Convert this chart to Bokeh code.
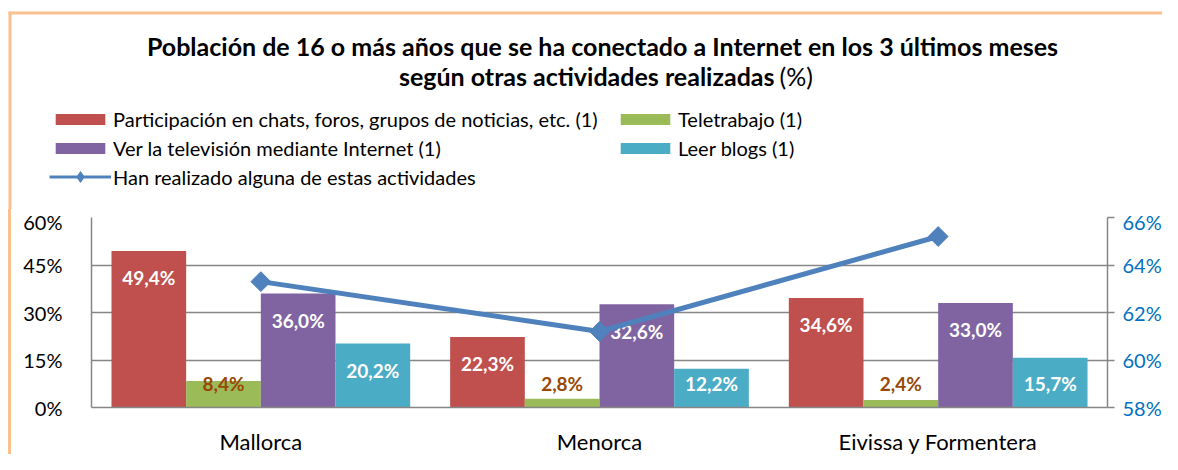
import math
from bokeh.plotting import figure
from bokeh.layouts import column, row
from bokeh.models import (FactorRange, Range1d, LinearAxis, FixedTicker, Legend,
                          LegendItem, Label, BoxAnnotation, ColumnDataSource, Div)
from bokeh.transform import dodge
from bokeh.core.properties import value
from bokeh.embed import file_html
from bokeh.resources import INLINE

# ---------------- data ----------------
categories = ["Mallorca", "Menorca", "Eivissa y Formentera"]
series_names = ["Participación en chats, foros, grupos de noticias, etc. (1)",
                "Teletrabajo (1)",
                "Ver la televisión mediante Internet (1)",
                "Leer blogs (1)"]
chats = [49.4, 22.3, 34.6]
teletrabajo = [8.4, 2.8, 2.4]
television = [36.0, 32.6, 33.0]
blogs = [20.2, 12.2, 15.7]
line_name = "Han realizado alguna de estas actividades"
alguna = [63.3, 61.2, 65.2]
left_ticks = [0, 15, 30, 45, 60]
right_ticks = [58, 60, 62, 64, 66]
title_line1 = "Población de 16 o más años que se ha conectado a Internet en los 3 últimos meses"
title_line2_bold = "según otras actividades realizadas"
title_line2_plain = "(%)"

# ---------------- styles ----------------
FONT = "Lato"
colors = ["#C0504D", "#9BBB59", "#8064A2", "#4BACC6"]
label_colors = ["white", "#984807", "white", "white"]
line_color = "#4F81BD"
grid_color = "#868686"
border_color = "#FAC090"

W = 1162
HEAD_H = 209
STRIP_W = 8
STRIP_LINE = 3
STRIP = STRIP_W + STRIP_LINE
BORDER_TOP = 11

all_series = [chats, teletrabajo, television, blogs]

# ================= header figure (title + legend) =================
head = figure(width=W, height=HEAD_H, output_backend="svg", toolbar_location=None,
              x_range=Range1d(0, W), y_range=Range1d(HEAD_H, 0),
              x_axis_location=None, y_axis_location=None,
              min_border=0, min_border_left=0, min_border_right=0,
              min_border_top=0, min_border_bottom=0)
head.outline_line_color = None
head.xgrid.grid_line_color = None
head.ygrid.grid_line_color = None
head.background_fill_color = "white"
head.border_fill_color = "white"

# hidden copies of the series, used only as legend keys
leg_bars = []
for vals, col in zip(all_series, colors):
    leg_bars.append(head.vbar(x=list(range(len(vals))), top=vals, width=0.2,
                              fill_color=col, line_color=None, visible=False))
leg_line = head.line(x=list(range(len(alguna))), y=alguna, line_color=line_color,
                     line_width=3, visible=False)
leg_mark = head.scatter(x=list(range(len(alguna))), y=alguna, marker="diamond",
                        size=12, fill_color=line_color,
                        line_color=line_color, visible=False)


def make_legend(fig, items, loc, gh, standoff):
    lg = Legend(items=items, location=loc, orientation="vertical",
                glyph_width=62, glyph_height=gh, label_height=29, spacing=0,
                label_standoff=standoff, padding=0, margin=0,
                label_text_font=FONT, label_text_font_size="20px",
                label_text_color="black", border_line_color=None,
                background_fill_alpha=0, inactive_fill_alpha=0)
    fig.add_layout(lg)
    return lg


make_legend(head, [LegendItem(label=series_names[0], renderers=[leg_bars[0]]),
                   LegendItem(label=series_names[2], renderers=[leg_bars[2]])],
            (49, 47), 14, 2)
make_legend(head, [LegendItem(label=series_names[1], renderers=[leg_bars[1]]),
                   LegendItem(label=series_names[3], renderers=[leg_bars[3]])],
            (614, 47), 14, 2)
make_legend(head, [LegendItem(label=line_name, renderers=[leg_line, leg_mark])],
            (49, 18), 27, 2)

head.add_layout(Label(x=602, y=45, text=title_line1, text_align="center",
                      text_baseline="middle", text_font=FONT, text_font_style="bold",
                      text_font_size="25px", text_color="black"))
head.add_layout(Label(x=774, y=75, text=title_line2_bold, text_align="right",
                      text_baseline="middle", text_font=FONT, text_font_style="bold",
                      text_font_size="25px", text_color="black"))
head.add_layout(Label(x=779, y=75, text=title_line2_plain, text_align="left",
                      text_baseline="middle", text_font=FONT,
                      text_font_size="25px", text_color="black"))

# peach chart border (top and left edges), as thin filled boxes
head.add_layout(BoxAnnotation(left=STRIP_W, right=W, top=BORDER_TOP,
                              bottom=BORDER_TOP + STRIP_LINE,
                              fill_color=border_color, fill_alpha=1,
                              line_color=None, level="overlay"))
head.add_layout(BoxAnnotation(left=STRIP_W, right=STRIP, top=BORDER_TOP,
                              bottom=HEAD_H,
                              fill_color=border_color, fill_alpha=1,
                              line_color=None, level="overlay"))

# ================= main chart =================
p = figure(x_range=FactorRange(*categories), y_range=Range1d(0, 60),
           frame_width=1016, frame_height=190,
           output_backend="svg", toolbar_location=None,
           min_border_left=91 - STRIP, min_border_right=55, min_border_top=8,
           min_border_bottom=47)
p.outline_line_color = None
p.background_fill_color = "white"
p.border_fill_color = "white"

p.yaxis.ticker = FixedTicker(ticks=left_ticks)
p.yaxis.major_label_overrides = {t: f"{t}%" for t in left_ticks}
p.yaxis.axis_line_color = grid_color
p.yaxis.axis_line_width = 1.5
p.yaxis.major_tick_line_color = None
p.yaxis.minor_tick_line_color = None
p.yaxis.major_label_text_font = FONT
p.yaxis.major_label_text_font_size = "20px"
p.yaxis.major_label_text_color = "black"
p.yaxis.major_label_standoff = 23

p.ygrid.ticker = FixedTicker(ticks=left_ticks)
p.ygrid.grid_line_color = grid_color
p.ygrid.grid_line_width = 1.5
p.xgrid.grid_line_color = None

p.xaxis.axis_line_color = grid_color
p.xaxis.axis_line_width = 1.5
p.xaxis.major_tick_line_color = None
p.xaxis.minor_tick_line_color = None
p.xaxis.major_label_text_font = FONT
p.xaxis.major_label_text_font_size = "22px"
p.xaxis.major_label_text_color = "black"
p.xaxis.major_label_standoff = 14

p.extra_y_ranges = {"right": Range1d(58, 66)}
rax = LinearAxis(y_range_name="right", ticker=FixedTicker(ticks=right_ticks))
rax.major_label_overrides = {t: f"{t}%" for t in right_ticks}
rax.axis_line_color = grid_color
rax.axis_line_width = 1.5
rax.major_tick_line_color = grid_color
rax.major_tick_line_width = 1.5
rax.major_tick_out = 7
rax.major_tick_in = 0
rax.minor_tick_line_color = None
rax.major_label_text_font = FONT
rax.major_label_text_font_size = "20px"
rax.major_label_text_color = "#0070C0"
rax.major_label_standoff = 8
p.add_layout(rax, "right")

bw = 0.2205
offsets = [-1.5 * bw, -0.5 * bw, 0.5 * bw, 1.5 * bw]
for vals, col, lc, off in zip(all_series, colors, label_colors, offsets):
    ly = [max(v - 8.5, 7.6) for v in vals]
    txt = [f"{v:.1f}".replace(".", ",") + "%" for v in vals]
    src = ColumnDataSource(dict(x=categories, top=vals, ly=ly, txt=txt))
    p.vbar(x=dodge("x", off, range=p.x_range), top="top", width=bw,
           source=src, fill_color=col, line_color=None)
    p.text(x=dodge("x", off, range=p.x_range), y="ly", text="txt", source=src,
           text_align="center", text_baseline="middle",
           text_font=value(FONT), text_font_style="bold",
           text_font_size="19px", text_color=lc)

lsrc = ColumnDataSource(dict(x=categories, y=alguna))
p.line(x="x", y="y", source=lsrc, y_range_name="right",
       line_color=line_color, line_width=5)
p.scatter(x="x", y="y", source=lsrc, y_range_name="right", marker="square",
          angle=math.pi / 4, size=14, fill_color=line_color, line_color=line_color)

strip_white = Div(text="", width=STRIP_W, height=245, margin=0)
strip_peach = Div(text="", width=STRIP_LINE, height=245, margin=0,
                  styles={"background-color": border_color})
layout = column(head, row(strip_white, strip_peach, p, spacing=0), spacing=0)

open("out.html", "w").write(file_html(layout, INLINE))
